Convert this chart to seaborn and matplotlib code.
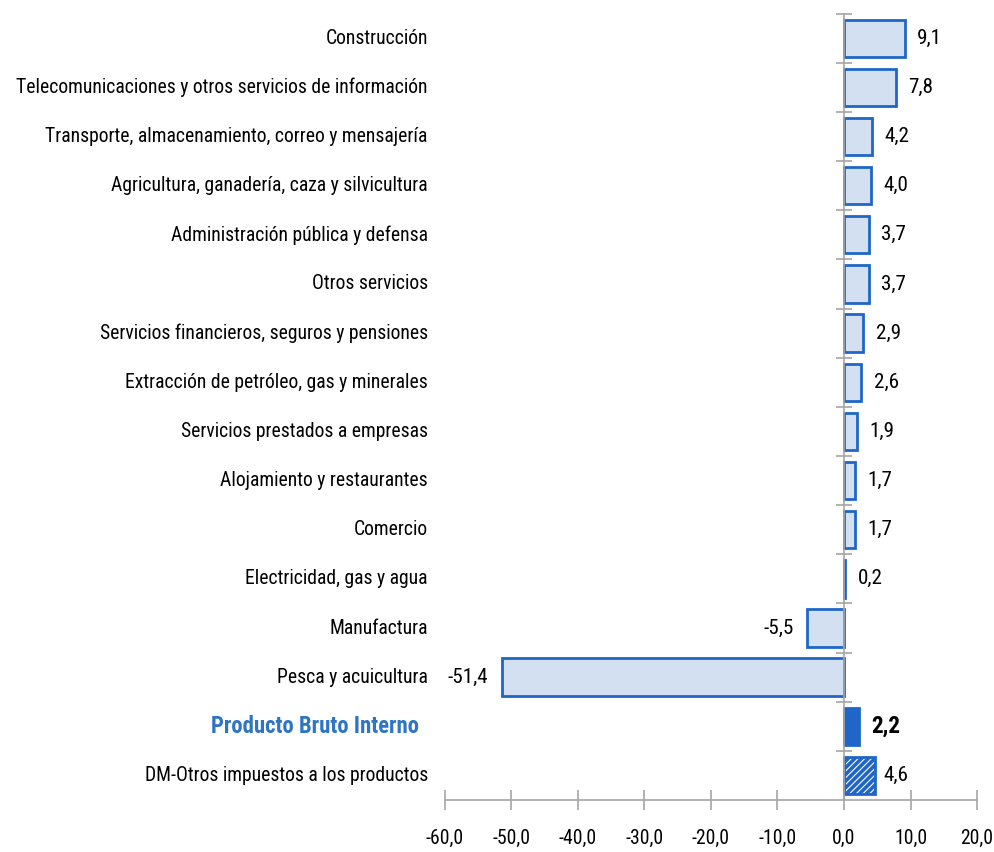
import matplotlib
matplotlib.use("Agg")
import matplotlib.pyplot as plt
import seaborn as sns
import pandas as pd
from matplotlib.ticker import FixedLocator, FuncFormatter
from matplotlib import font_manager
from matplotlib.font_manager import FontProperties

categories = [
    "Construcción",
    "Telecomunicaciones y otros servicios de información",
    "Transporte, almacenamiento, correo y mensajería",
    "Agricultura, ganadería, caza y silvicultura",
    "Administración pública y defensa",
    "Otros servicios",
    "Servicios financieros, seguros y pensiones",
    "Extracción de petróleo, gas y minerales",
    "Servicios prestados a empresas",
    "Alojamiento y restaurantes",
    "Comercio",
    "Electricidad, gas y agua",
    "Manufactura",
    "Pesca y acuicultura",
    "Producto Bruto Interno",
    "DM-Otros impuestos a los productos",
]
values = [9.1, 7.8, 4.2, 4.0, 3.7, 3.7, 2.9, 2.6, 1.9, 1.7, 1.7, 0.2, -5.5, -51.4, 2.2, 4.6]
x_ticks = [-60, -50, -40, -30, -20, -10, 0, 10, 20]

# ---- find a narrow / condensed sans font if available ----
def find_font():
    regs, bolds = [], []
    for f in font_manager.fontManager.ttflist:
        fn = f.fname.lower()
        nm = f.name.lower()
        if ("narrow" in fn or "condensed" in fn or "narrow" in nm or "condensed" in nm) \
                and "mono" not in fn and "serif" not in fn and "italic" not in fn \
                and "oblique" not in fn and "light" not in fn and "semi" not in fn:
            if "bold" in fn:
                bolds.append(f.fname)
            else:
                regs.append(f.fname)
    pref = ["liberationsansnarrow", "roboto", "opensans", "noto", "dejavu"]
    regs.sort(key=lambda p: next((i for i, k in enumerate(pref) if k in p.lower().replace("-", "").replace("_", "")), 99))
    if regs:
        r = regs[0]
        stem = r.lower().split("/")[-1][:8]
        b = [x for x in bolds if x.lower().split("/")[-1][:8] == stem]
        return FontProperties(fname=r), FontProperties(fname=b[0]) if b else FontProperties(fname=r, weight="bold")
    return FontProperties(family="Liberation Sans"), FontProperties(family="Liberation Sans", weight="bold")

FP_REG, FP_BOLD = find_font()

sns.set_theme(style="white")
plt.rcParams["font.family"] = ["Liberation Sans", "DejaVu Sans"]
plt.rcParams["hatch.linewidth"] = 2.6

BLUE = "#1F66C8"
LIGHT = "#D2E0F2"
GRAY = "#A6A6A6"
LABEL_BLUE = "#2E75C6"

df = pd.DataFrame({"cat": categories, "val": values})

fig = plt.figure(figsize=(9.95, 8.52), dpi=100)
ax = fig.add_axes([0.447, 0.061, 0.535, 0.923])

sns.barplot(data=df, y="cat", x="val", orient="h", ax=ax, width=0.76,
            color=LIGHT, edgecolor=BLUE, linewidth=2, saturation=1)

pbi_idx = categories.index("Producto Bruto Interno")
dm_idx = categories.index("DM-Otros impuestos a los productos")
for i, p in enumerate(ax.patches):
    if i == pbi_idx:
        p.set_facecolor(BLUE)
        p.set_edgecolor(BLUE)
    elif i == dm_idx:
        p.set_facecolor("white")
        p.set_edgecolor(BLUE)
        p.set_hatch("/////")

ax.set_xlim(-60, 20)
ax.set_ylim(len(categories) - 0.5, -0.5)
ax.set_xlabel("")
ax.set_ylabel("")

for s in ["top", "right"]:
    ax.spines[s].set_visible(False)
ax.spines["left"].set_position(("data", 0))
ax.spines["left"].set_color(GRAY)
ax.spines["left"].set_linewidth(1.2)
ax.spines["bottom"].set_color(GRAY)
ax.spines["bottom"].set_linewidth(1.2)

# ---- font size so that longest label fits the reference width ----
renderer = fig.canvas.get_renderer()
longest = max(categories, key=len)
probe = fig.text(0, 0, longest, fontproperties=FP_REG.copy(), fontsize=20)
w20 = probe.get_window_extent(renderer).width
probe.remove()
FS = min(17.0, 20 * 412.0 / w20)

ax.xaxis.set_major_locator(FixedLocator(x_ticks))
ax.xaxis.set_major_formatter(FuncFormatter(lambda v, p: f"{v:.1f}".replace(".", ",")))
ax.tick_params(axis="x", direction="inout", length=14, width=1.2, color=GRAY, pad=14, bottom=True)
for lbl in ax.get_xticklabels():
    lbl.set_fontproperties(FP_REG)
    lbl.set_fontsize(FS)
    lbl.set_color("black")

ax.set_yticks([i + 0.5 for i in range(-1, len(categories) - 1)])
ax.set_yticklabels([])
ax.tick_params(axis="y", direction="inout", length=12, width=1.2, color=GRAY, left=True)

trans = matplotlib.transforms.blended_transform_factory(fig.transFigure, ax.transData)
for i, c in enumerate(categories):
    if i == pbi_idx:
        ax.text(0.421, i, c, transform=trans, ha="right", va="center",
                fontproperties=FP_BOLD, fontsize=FS * 1.15, color=LABEL_BLUE)
    else:
        ax.text(0.43, i, c, transform=trans, ha="right", va="center",
                fontproperties=FP_REG, fontsize=FS, color="black")

VFS = FS * 1.08
for i, v in enumerate(values):
    txt = f"{v:.1f}".replace(".", ",")
    if v >= 0:
        off = 6 if i == dm_idx else 9
        ax.annotate(txt, (v, i), xytext=(off, 0), textcoords="offset points",
                    ha="left", va="center",
                    fontproperties=FP_BOLD if i == pbi_idx else FP_REG,
                    fontsize=VFS * (1.1 if i == pbi_idx else 1.0), color="black")
    else:
        ax.annotate(txt, (v, i), xytext=(-10, 0), textcoords="offset points",
                    ha="right", va="center", fontproperties=FP_REG, fontsize=VFS, color="black")

fig.savefig("out.png", dpi=100)
